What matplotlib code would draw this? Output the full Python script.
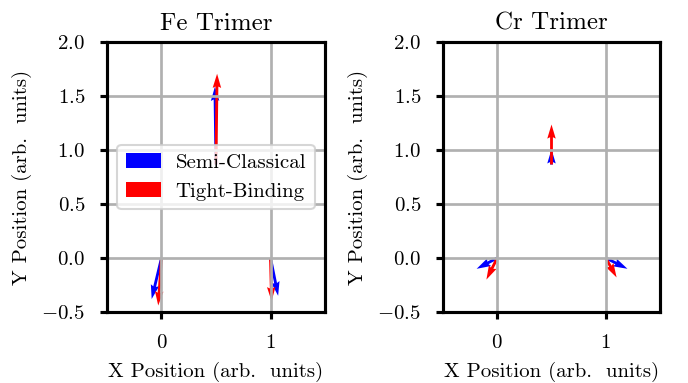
import matplotlib
matplotlib.use('Agg')
import matplotlib.pyplot as plt
import numpy as np

plt.rcParams['font.family'] = 'serif'
plt.rcParams['font.serif'] = ['cmr10']
plt.rcParams['mathtext.fontset'] = 'cm'
plt.rcParams['axes.formatter.use_mathtext'] = True
plt.rcParams['font.size'] = 10
plt.rcParams['axes.linewidth'] = 1.5
plt.rcParams['xtick.major.width'] = 1.5
plt.rcParams['ytick.major.width'] = 1.5
plt.rcParams['xtick.major.pad'] = 7
plt.rcParams['ytick.major.pad'] = 7

# atom positions (trimer)
atom_x = [0.0, 1.0, 0.5]
atom_y = [0.0, 0.0, 0.866]

# moments (in-plane projection)
fe_semi_u = [-0.09, 0.07, -0.01]
fe_semi_v = [-0.38, -0.35, 0.72]
fe_tb_u = [-0.03, 0.01, 0.01]
fe_tb_v = [-0.44, -0.40, 0.84]

cr_semi_u = [-0.19, 0.20, 0.0]
cr_semi_v = [-0.10, -0.10, 0.14]
cr_tb_u = [-0.10, 0.10, 0.0]
cr_tb_v = [-0.20, -0.18, 0.37]

titles = ['Fe Trimer', 'Cr Trimer']
yticks = [-0.5, 0.0, 0.5, 1.0, 1.5, 2.0]
xticks = [0, 1]

fig = plt.figure(figsize=(688/150, 383/150), dpi=150)
ax1 = fig.add_axes([0.1555, 0.1854, 0.3169, 0.7049])
ax2 = fig.add_axes([0.6439, 0.1854, 0.3154, 0.7049])

panels = [(ax1, fe_semi_u, fe_semi_v, fe_tb_u, fe_tb_v),
          (ax2, cr_semi_u, cr_semi_v, cr_tb_u, cr_tb_v)]

for i, (ax, su, sv, tu, tv) in enumerate(panels):
    ax.quiver(atom_x, atom_y, su, sv, color='blue', angles='xy',
              scale_units='xy', scale=1, width=0.013, label='Semi-Classical')
    ax.quiver(atom_x, atom_y, tu, tv, color='red', angles='xy',
              scale_units='xy', scale=1, width=0.013, label='Tight-Binding')
    ax.set_xlim(-0.5, 1.5)
    ax.set_ylim(-0.5, 2.0)
    ax.set_xticks(xticks)
    ax.set_yticks(yticks)
    ax.grid(True, color='#b0b0b0', linewidth=1.3)
    ax.set_title(titles[i], fontsize=12)
    ax.set_xlabel('X Position (arb.  units)')
    ax.set_ylabel('Y Position (arb.  units)')
    ax.xaxis.set_label_coords(0.5, -0.183)
    ax.yaxis.set_label_coords(-0.345, 0.5)

ax1.legend(loc='center left', handlelength=1.7, handletextpad=0.7)

fig.savefig('out.png', dpi=150)
